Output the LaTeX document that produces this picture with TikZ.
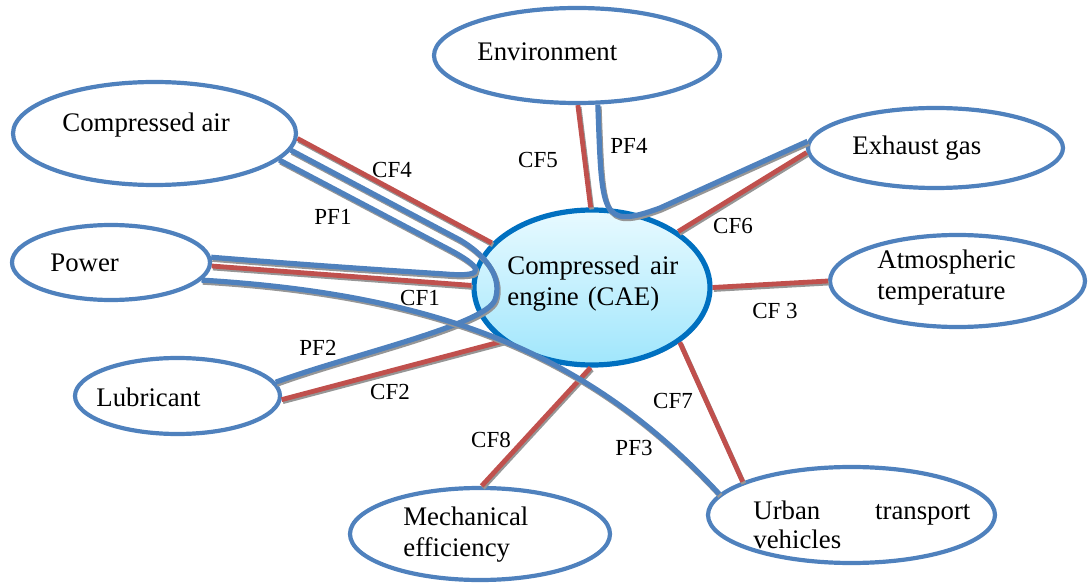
\documentclass[tikz,border=0pt]{standalone}
\usepackage{fontspec}
\setmainfont{Liberation Serif}
\usetikzlibrary{shapes.geometric,shadows}
\definecolor{pfblue}{RGB}{79,129,189}
\definecolor{cfred}{RGB}{192,80,77}
\definecolor{caeblue}{RGB}{0,112,192}
\definecolor{caetop}{RGB}{232,250,255}
\definecolor{caebottom}{RGB}{160,230,252}
\definecolor{shadowgray}{RGB}{150,150,150}
\begin{document}
\begin{tikzpicture}[x=.5pt,y=-.5pt,line join=round,
 font=\fontsize{13.4}{15.5}\selectfont,
 ell/.style={ellipse,draw=pfblue,line width=2.1pt,inner sep=0pt},
 txt/.style={anchor=west,inner sep=0pt,align=left},
 lbl/.style={font=\fontsize{11.5}{13}\selectfont,inner sep=0pt},
 cf/.style={draw=cfred,line width=2.4pt,preaction={draw=shadowgray,line width=2.4pt,
  transform canvas={xshift=.6pt,yshift=-1pt}}},
 pf/.style={draw=pfblue,line width=2.6pt,preaction={draw=shadowgray,line width=2.6pt,
  transform canvas={xshift=.6pt,yshift=-1pt}}}]
 \useasboundingbox (0,0) rectangle (1089,583);
 \node[ell,minimum width=143pt,minimum height=47.5pt] (env) at (577,55.5) {};
 \node[ell,minimum width=141.5pt,minimum height=51.5pt] (cair) at (154.5,133.5) {};
 \node[ell,minimum width=127.5pt,minimum height=40pt] (exh) at (935.5,148) {};
 \node[ell,minimum width=99pt,minimum height=37.5pt] (power) at (111,262.5) {};
 \node[ell,minimum width=127.5pt,minimum height=46pt] (atm) at (957.5,281) {};
 \node[ell,minimum width=102.5pt,minimum height=38pt] (lub) at (177.5,396) {};
 \node[ell,minimum width=130pt,minimum height=46pt] (mech) at (480,534) {};
 \node[ell,minimum width=143.5pt,minimum height=48pt] (urban) at (851.5,515) {};
 \node[ellipse,draw=caeblue,line width=2.6pt,inner sep=0pt,
  top color=caetop,bottom color=caebottom,minimum width=118pt,minimum height=77.5pt,
  drop shadow={shadow xshift=.8pt,shadow yshift=-1pt,fill=black,opacity=.3}] (cae) at (592,287.5) {};
 \node[txt] (envtxt) at (477,52) {Environment};
 \node[txt] (cairtxt) at (62,125) {Compressed air};
 \node[txt] (exhtxt) at (852,148) {Exhaust gas};
 \node[txt] (powertxt) at (50,263) {Power};
 \node[txt] (atmtxt) at (877,278) {Atmospheric\\temperature};
 \node[txt] (lubtxt) at (96,397) {Lubricant};
 \node[txt] (mechtxt) at (403,535) {Mechanical\\efficiency};
 \node[txt,text width=108.5pt,font=\fontsize{13.4}{14.5}\selectfont] (urbantxt) at (753,525)
  {Urban\hfill transport\\vehicles};
 \node[txt,text width=85.5pt] (caetxt) at (507,284) {Compressed\hfill air\\engine (CAE)};
 \draw[cf] (cair.-2) -- (cae.156);
 \draw[cf] (env.-89) -- (cae.91);
 \draw[cf] (cae.33) -- (exh.-178);
 \draw[cf] (power.-2) -- (cae.179);
 \draw[cf] (cae.0) -- (atm.180);
 \draw[cf] (lub.-2) -- (cae.211);
 \draw[cf] (cae.-32) -- (urban.163);
 \draw[cf] (cae.-91) -- (mech.88);
 \draw[pf] (cair.-12) -- (450,250) .. controls (478,265) and (492,278) .. (445,274)
  .. controls (350,268) and (270,262) .. (power.3);
 \draw[pf] (cair.-7) -- (460,240) .. controls (490,258) and (502,280) .. (495,300)
  .. controls (485,325) and (350,355) .. (lub.8);
 \draw[pf] (power.-11) .. controls (450,295) and (595,360) .. (urban.171.5);
 \draw[pf] (env.-67) .. controls (602,215) and (600,230) .. (660,208) -- (exh.177);
 \node[lbl] (cf4) at (392,170) {CF4};
 \node[lbl] (pf1) at (333,217) {PF1};
 \node[lbl] (cf5) at (538,160) {CF5};
 \node[lbl] (pf4) at (629,146) {PF4};
 \node[lbl] (cf6) at (733,226) {CF6};
 \node[lbl] (cf1) at (420,298) {CF1};
 \node[lbl] (cf3) at (775,311) {CF 3};
 \node[lbl] (pf2) at (318,348) {PF2};
 \node[lbl] (cf2) at (390,392) {CF2};
 \node[lbl] (cf7) at (673,401) {CF7};
 \node[lbl] (cf8) at (491,440) {CF8};
 \node[lbl] (pf3) at (634,448) {PF3};
\end{tikzpicture}
\end{document}
